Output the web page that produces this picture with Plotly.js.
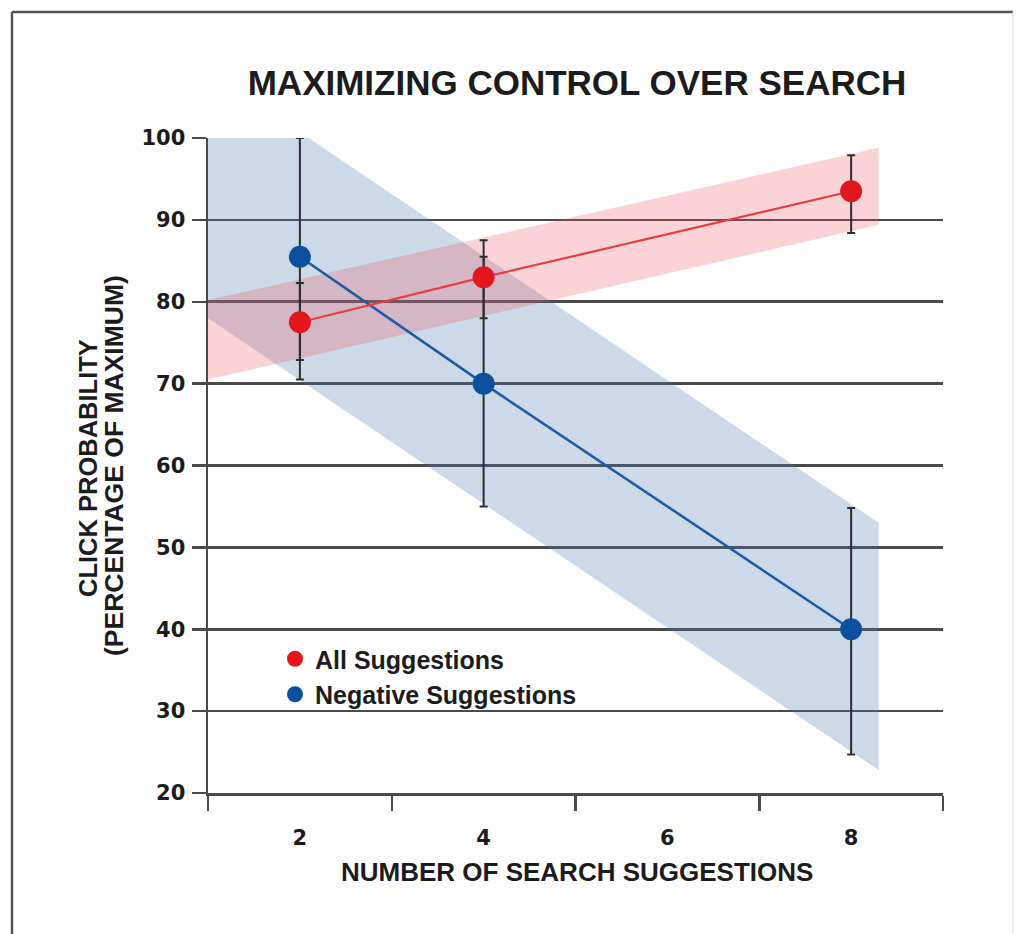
<!DOCTYPE html>
<html>
<head>
<meta charset="utf-8">
<script src="https://cdn.plot.ly/plotly-3.0.1.min.js"></script>
<style>
  html, body { margin: 0; padding: 0; background: #ffffff; }
  #chart { width: 1024px; height: 934px; }
</style>
</head>
<body>
<div id="chart"></div>
<script>
// ---- data ----
const suggestionCounts = [2, 4, 8];

const allMean = [77.5, 83, 93.5];
const allErrPlus = [4.8, 4.5, 4.4];
const allErrMinus = [4.6, 5, 5.1];

const negMean = [85.5, 70, 40];
const negErrPlus = [14.5, 15.5, 14.8];
const negErrMinus = [15, 15, 15.3];

// confidence bands: [left end, right end]
const bandX = [1, 8.3];
const allBandUpper = [80.2, 98.8];
const allBandLower = [70.5, 89.4];
const negBandUpper = [108.3, 53];
const negBandLower = [78, 22.8];

const xTickVals = [2, 4, 6, 8];
const yTickVals = [20, 30, 40, 50, 60, 70, 80, 90, 100];

const seriesNames = ['All Suggestions', 'Negative Suggestions'];

// ---- styles ----
const RED = '#e3161e';
const BLUE = '#0c4f9e';
const INK = '#1c1c1c';
const GRID = '#4a4a4a';
const TXT = 'Liberation Sans, Arial, sans-serif';
const NUM = 'DejaVu Sans, sans-serif';

function bandPolygon(xs, up, lo) {
  return {
    x: [xs[0], xs[1], xs[1], xs[0]],
    y: [up[0], up[1], lo[1], lo[0]]
  };
}

const negBand = bandPolygon(bandX, negBandUpper, negBandLower);
const allBand = bandPolygon(bandX, allBandUpper, allBandLower);

const traces = [
  {
    x: negBand.x, y: negBand.y, type: 'scatter', mode: 'none',
    fill: 'toself', fillcolor: 'rgba(70,120,175,0.28)',
    hoverinfo: 'skip', showlegend: false
  },
  {
    x: allBand.x, y: allBand.y, type: 'scatter', mode: 'none',
    fill: 'toself', fillcolor: 'rgba(240,80,90,0.25)',
    hoverinfo: 'skip', showlegend: false
  },
  {
    x: suggestionCounts, y: negMean, type: 'scatter', mode: 'lines+markers',
    name: seriesNames[1], showlegend: false,
    line: {color: '#1e5aa0', width: 2.5},
    marker: {color: BLUE, size: 22},
    error_y: {type: 'data', symmetric: false, array: negErrPlus, arrayminus: negErrMinus,
              color: '#2e2e2e', thickness: 2, width: 4}
  },
  {
    x: suggestionCounts, y: allMean, type: 'scatter', mode: 'lines+markers',
    name: seriesNames[0], showlegend: false,
    line: {color: '#e5403f', width: 2.2},
    marker: {color: RED, size: 22},
    error_y: {type: 'data', symmetric: false, array: allErrPlus, arrayminus: allErrMinus,
              color: '#2e2e2e', thickness: 2, width: 4}
  },
  // legend entries
  {
    x: [null], y: [null], type: 'scatter', mode: 'markers',
    name: seriesNames[0], marker: {color: RED, size: 18}
  },
  {
    x: [null], y: [null], type: 'scatter', mode: 'markers',
    name: seriesNames[1], marker: {color: BLUE, size: 18}
  }
];

const layout = {
  width: 1024,
  height: 934,
  paper_bgcolor: '#ffffff',
  plot_bgcolor: '#ffffff',
  margin: {l: 208, r: 81, t: 138, b: 141},
  showlegend: true,
  title: {
    text: 'MAXIMIZING CONTROL OVER SEARCH',
    font: {family: TXT, size: 35, color: INK, weight: 'bold'},
    xref: 'container', yref: 'container',
    x: 577 / 1024, xanchor: 'center',
    y: 1 - 83 / 934, yanchor: 'middle'
  },
  xaxis: {
    range: [1, 9],
    tickmode: 'array', tickvals: xTickVals,
    ticks: '', showgrid: false, zeroline: false,
    showline: true, linecolor: GRID, linewidth: 2.5,
    ticklabelstandoff: 24,
    tickfont: {family: NUM, size: 21, color: INK, weight: 'bold'},
    minor: {tick0: 1, dtick: 2, ticks: 'outside', ticklen: 15, tickwidth: 2.5,
            tickcolor: GRID, showgrid: false},
    fixedrange: true
  },
  yaxis: {
    range: [20, 100],
    tickmode: 'array', tickvals: yTickVals,
    ticks: 'outside', ticklen: 14, tickwidth: 2.5, tickcolor: GRID,
    showgrid: true, gridcolor: GRID, gridwidth: 2.7,
    zeroline: false,
    showline: true, linecolor: GRID, linewidth: 2.5,
    ticklabelstandoff: 2,
    tickfont: {family: NUM, size: 21, color: INK, weight: 'bold'},
    fixedrange: true
  },
  legend: {
    x: (275 - 208) / 735, xanchor: 'left',
    y: (793 - 636) / 655, yanchor: 'top',
    bgcolor: 'rgba(0,0,0,0)',
    font: {family: TXT, size: 25, color: INK, weight: 'bold'},
    tracegroupgap: 0
  },
  annotations: [
    {
      text: 'CLICK PROBABILITY', textangle: -90,
      xref: 'paper', yref: 'paper',
      x: (88 - 208) / 735, y: (793 - 468) / 655,
      xanchor: 'center', yanchor: 'middle', showarrow: false,
      font: {family: TXT, size: 25.5, color: INK, weight: 'bold'}
    },
    {
      text: '(PERCENTAGE OF MAXIMUM)', textangle: -90,
      xref: 'paper', yref: 'paper',
      x: (114 - 208) / 735, y: (793 - 466) / 655,
      xanchor: 'center', yanchor: 'middle', showarrow: false,
      font: {family: TXT, size: 26.5, color: INK, weight: 'bold'}
    },
    {
      text: 'NUMBER OF SEARCH SUGGESTIONS',
      xref: 'paper', yref: 'paper',
      x: (577 - 208) / 735, y: (793 - 872) / 655,
      xanchor: 'center', yanchor: 'middle', showarrow: false,
      font: {family: TXT, size: 26, color: INK, weight: 'bold'}
    }
  ],
  shapes: [
    {type: 'line', xref: 'paper', yref: 'paper',
     x0: (12 - 208) / 735, x1: (12 - 208) / 735,
     y0: (793 - 940) / 655, y1: (793 - 12) / 655,
     line: {color: '#555555', width: 2.5}},
    {type: 'line', xref: 'paper', yref: 'paper',
     x0: (12 - 208) / 735, x1: (1013 - 208) / 735,
     y0: (793 - 12) / 655, y1: (793 - 12) / 655,
     line: {color: '#555555', width: 2.5}},
    {type: 'line', xref: 'paper', yref: 'paper',
     x0: (1013 - 208) / 735, x1: (1013 - 208) / 735,
     y0: (793 - 940) / 655, y1: (793 - 12) / 655,
     line: {color: '#dddddd', width: 1}}
  ]
};

Plotly.newPlot('chart', traces, layout, {displayModeBar: false, staticPlot: true});
</script>
</body>
</html>
